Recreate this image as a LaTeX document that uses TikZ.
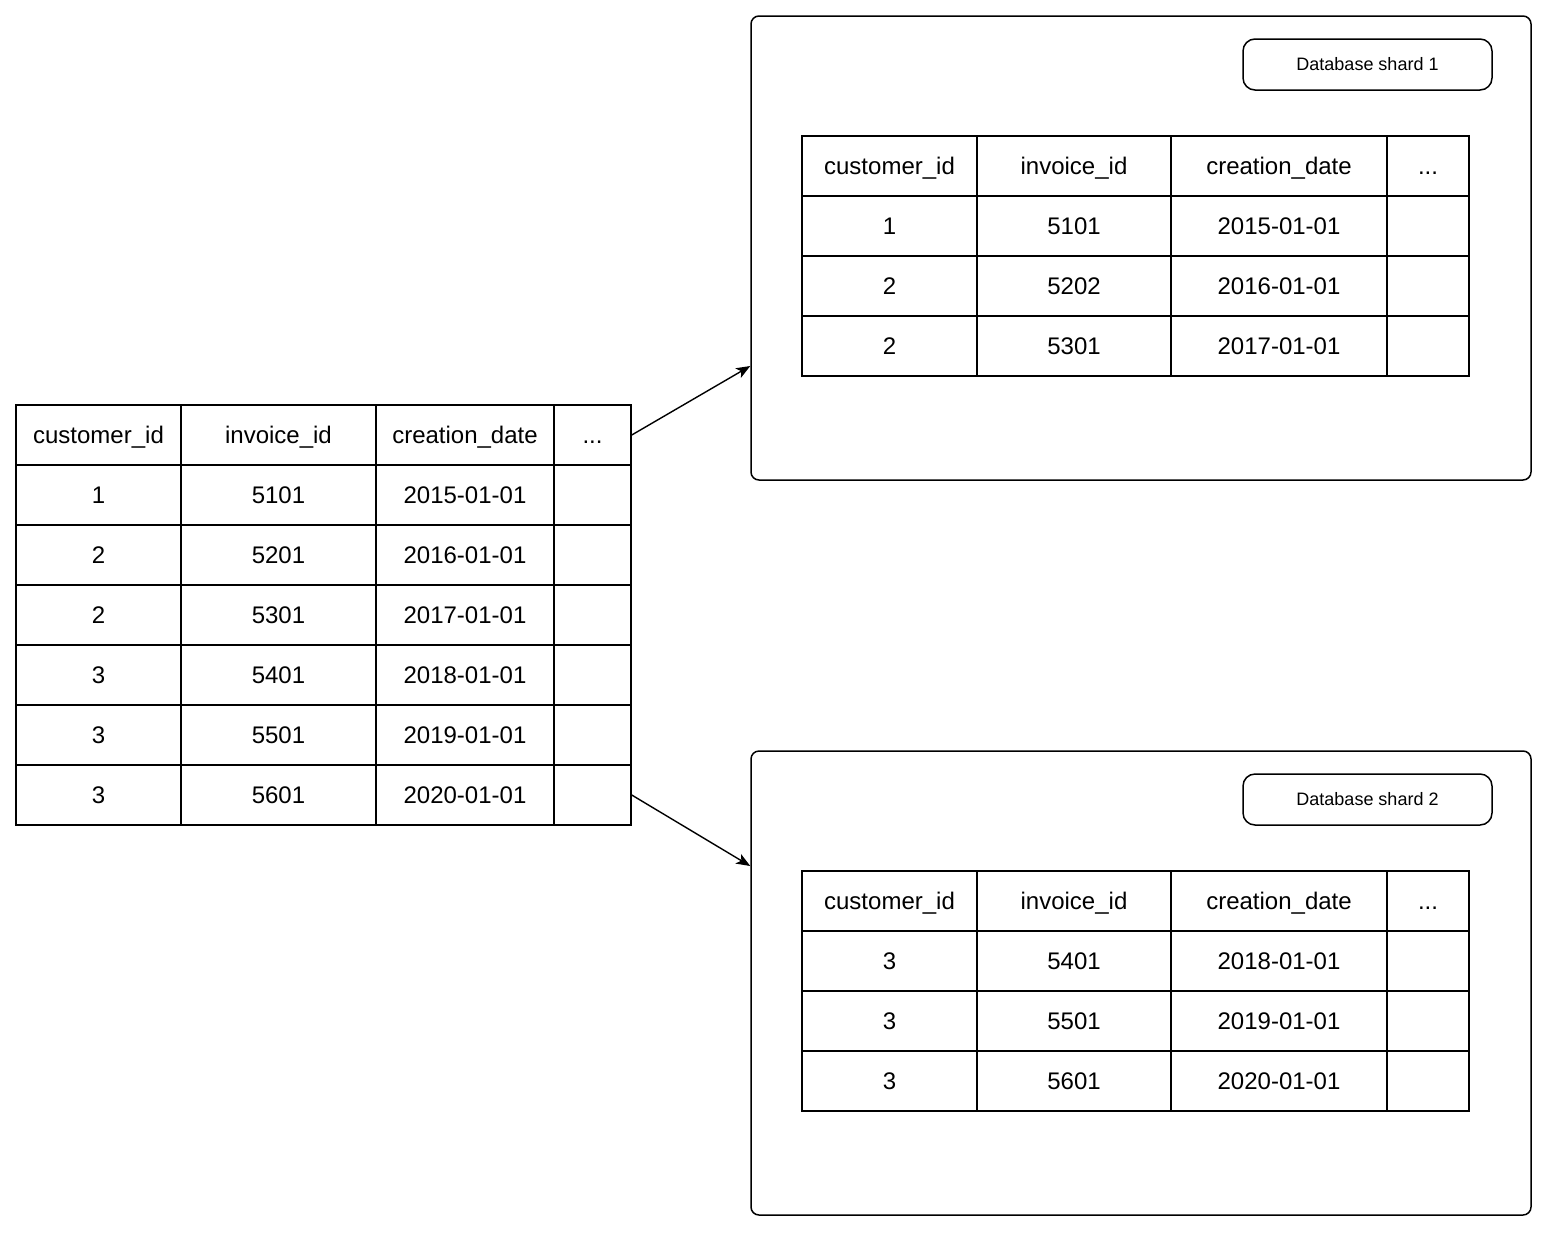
\documentclass[tikz,border=0pt]{standalone}
\usepackage{fontspec}
\setmainfont{Liberation Sans}
\usetikzlibrary{arrows.meta}
\newcommand\myellip{...}
\begin{document}
\begin{tikzpicture}[x=0.5pt,y=-0.5pt,line width=0.75pt,
  cell/.style={draw,inner sep=0pt,minimum height=30pt,text height=10.6pt,text depth=2pt,font=\fontsize{12}{14}\selectfont},
  shardbox/.style={draw,rounded corners=4pt,inner sep=0pt,minimum width=390pt,minimum height=232pt},
  shardlabel/.style={draw,rounded corners=6pt,inner sep=0pt,minimum width=124.5pt,minimum height=25.5pt,font=\fontsize{9}{11}\selectfont},
  arr/.style={-{Stealth[length=7pt,width=5.5pt,inset=1.8pt]},line width=0.7pt}]
\fill[white] (0,0) rectangle (1547,1232);
\useasboundingbox (0,0) rectangle (1547,1232);
% source table
\foreach \r/\ta/\tb/\tc/\td in {0/customer\_id/invoice\_id/creation\_date/\myellip,1/1/5101/2015-01-01/{},2/2/5201/2016-01-01/{},3/2/5301/2017-01-01/{},4/3/5401/2018-01-01/{},5/3/5501/2019-01-01/{},6/3/5601/2020-01-01/{}}{
  \node[cell,minimum width=82.5pt] (s-\r-1) at (98.5,{435+60*\r}) {\ta};
  \node[cell,minimum width=97.5pt] (s-\r-2) at (278.5,{435+60*\r}) {\tb};
  \node[cell,minimum width=89pt] (s-\r-3) at (465,{435+60*\r}) {\tc};
  \node[cell,minimum width=38.5pt] (s-\r-4) at (592.5,{435+60*\r}) {\td};
}
% shard 1
\node[shardbox] (shard1) at (1141,248) {};
\node[shardlabel] (label1) at (1367.5,64.5) {Database shard 1};
\foreach \r/\ta/\tb/\tc/\td in {0/customer\_id/invoice\_id/creation\_date/\myellip,1/1/5101/2015-01-01/{},2/2/5202/2016-01-01/{},3/2/5301/2017-01-01/{}}{
  \node[cell,minimum width=87.5pt] (a-\r-1) at (889.5,{166+60*\r}) {\ta};
  \node[cell,minimum width=97pt] (a-\r-2) at (1074,{166+60*\r}) {\tb};
  \node[cell,minimum width=108pt] (a-\r-3) at (1279,{166+60*\r}) {\tc};
  \node[cell,minimum width=41pt] (a-\r-4) at (1428,{166+60*\r}) {\td};
}
% shard 2
\node[shardbox] (shard2) at (1141,983) {};
\node[shardlabel] (label2) at (1367.5,799.5) {Database shard 2};
\foreach \r/\ta/\tb/\tc/\td in {0/customer\_id/invoice\_id/creation\_date/\myellip,1/3/5401/2018-01-01/{},2/3/5501/2019-01-01/{},3/3/5601/2020-01-01/{}}{
  \node[cell,minimum width=87.5pt] (b-\r-1) at (889.5,{901+60*\r}) {\ta};
  \node[cell,minimum width=97pt] (b-\r-2) at (1074,{901+60*\r}) {\tb};
  \node[cell,minimum width=108pt] (b-\r-3) at (1279,{901+60*\r}) {\tc};
  \node[cell,minimum width=41pt] (b-\r-4) at (1428,{901+60*\r}) {\td};
}
% connectors
\draw[arr] (s-0-4.east) -- ([yshift=-59pt]shard1.west);
\draw[arr] (s-6-4.east) -- ([yshift=58.5pt]shard2.west);
\end{tikzpicture}
\end{document}
